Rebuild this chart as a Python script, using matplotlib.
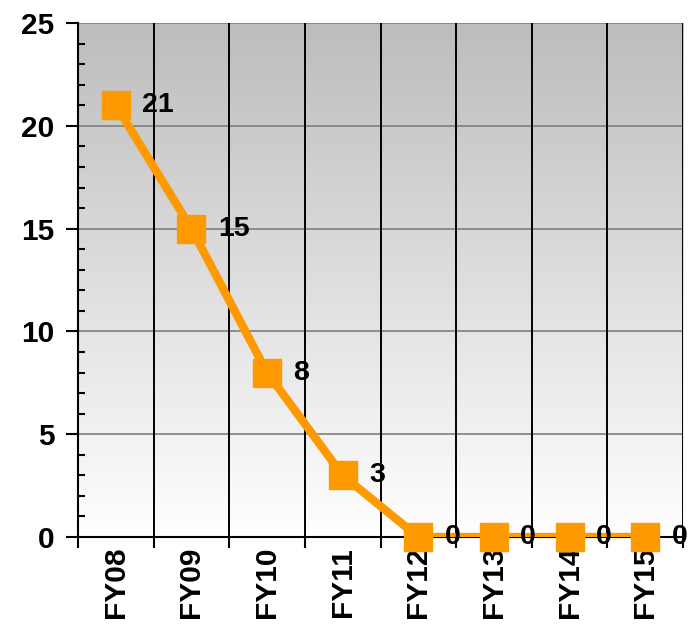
import numpy as np
import matplotlib.pyplot as plt
from matplotlib.ticker import MultipleLocator

years = ["FY08", "FY09", "FY10", "FY11", "FY12", "FY13", "FY14", "FY15"]
values = [21, 15, 8, 3, 0, 0, 0, 0]

plt.rcParams["font.family"] = ["Liberation Sans", "DejaVu Sans"]
plt.rcParams["font.weight"] = "bold"

fig = plt.figure(figsize=(6.88, 6.24), dpi=100)
ax = fig.add_axes([0.1134, 0.1394, 0.8794, 0.8237])

x = np.arange(len(years))
ax.set_xlim(-0.5, len(years) - 0.5)
ax.set_ylim(0, 25)

# gray (top) to white (bottom) gradient background
shade = np.linspace(0.74, 1.0, 256)
img = np.dstack([shade, shade, shade]).reshape(256, 1, 3)
ax.imshow(img, aspect="auto", extent=(-0.5, len(years) - 0.5, 0, 25),
          origin="upper", zorder=0, interpolation="bilinear")

# grid
for yv in range(5, 26, 5):
    ax.axhline(yv, color="#7f7f7f", lw=1.2, zorder=1)
for xv in np.arange(0.5, len(years), 1):
    ax.axvline(xv, color="black", lw=1.4, zorder=1)

ax.plot(x, values, color="#ff9900", lw=6, zorder=3, solid_joinstyle="round")
ax.plot(x, values, ls="none", marker="s", ms=20, color="#ff9900",
        zorder=4, clip_on=False)

for xi, v in zip(x, values):
    ax.annotate(str(v), (xi, v), xytext=(19, 0), textcoords="offset points",
                ha="left", va="center", fontsize=20.5, fontweight="bold",
                zorder=5, annotation_clip=False)

for s in ["top", "right"]:
    ax.spines[s].set_visible(False)
ax.spines["left"].set_linewidth(1.5)
ax.spines["bottom"].set_linewidth(1.5)

ax.yaxis.set_major_locator(MultipleLocator(5))
ax.yaxis.set_minor_locator(MultipleLocator(1))
ax.tick_params(axis="y", which="major", direction="out", length=9, width=1.5,
               labelsize=21.5, pad=8)
ax.tick_params(axis="y", which="minor", direction="in", length=5, width=1.5)

ax.set_xticks(x)
ax.set_xticklabels(years, rotation=90, fontsize=21.5, fontweight="bold")
ax.set_xticks(np.arange(-0.5, len(years), 1), minor=True)
ax.tick_params(axis="x", which="major", length=0, pad=7)
ax.tick_params(axis="x", which="minor", direction="out", length=8, width=1.5)

fig.savefig("out.png", dpi=100)
